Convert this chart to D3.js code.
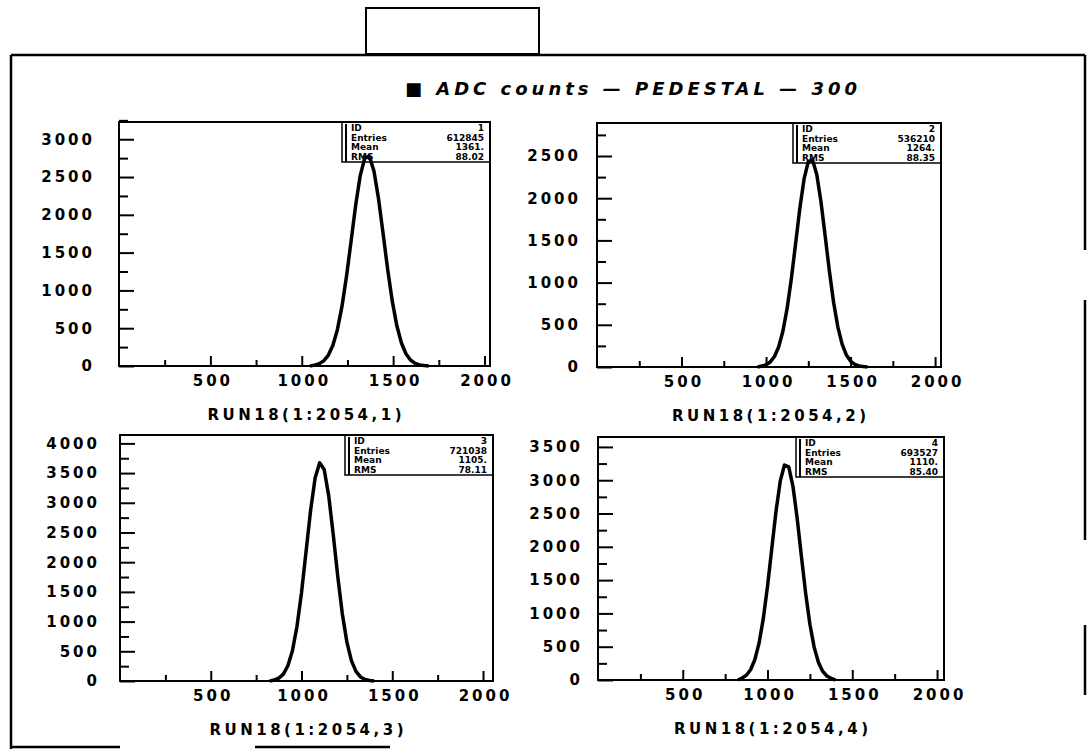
<!DOCTYPE html>
<html lang="en">
<head>
<meta charset="UTF-8">
<title>RUN18 pedestal</title>
<style>
  body { margin: 0; background: #fff; }
  svg { display: block; }
  .tick text { font-family: "DejaVu Sans", sans-serif; font-weight: bold; font-size: 15px; letter-spacing: 3px; fill: #000; }
  .tick line { stroke: #000; stroke-width: 2; }
  .frame { fill: none; stroke: #000; stroke-width: 2; }
  .hist { fill: none; stroke: #000; stroke-width: 3.5; stroke-linejoin: round; }
  .statbox { fill: none; stroke: #000; stroke-width: 1.5; }
  .stat { font-family: "DejaVu Sans", sans-serif; font-weight: bold; font-size: 9px; fill: #000; }
  .sub { font-family: "DejaVu Sans", sans-serif; font-weight: bold; font-size: 15px; fill: #000; }
  .title { font-family: "DejaVu Sans", sans-serif; font-weight: bold; font-style: italic; font-size: 18px; fill: #000; }
  .border { stroke: #000; stroke-width: 2.5; fill: none; }
</style>
</head>
<body>
<svg></svg>
<script src="https://d3js.org/d3.v7.min.js"></script>
<script>

// ---- data ----
const titleText = "\u25A0 ADC counts \u2014 PEDESTAL \u2014 300";
const panelNames = ["RUN18(1:2054,1)", "RUN18(1:2054,2)", "RUN18(1:2054,3)", "RUN18(1:2054,4)"];

const chan1 = [1045, 1070, 1095, 1120, 1145, 1170, 1195, 1220, 1245, 1270, 1295, 1320, 1345, 1370,
               1395, 1420, 1445, 1470, 1495, 1520, 1545, 1570, 1595, 1620, 1645, 1670, 1695];
const counts1 = [0, 12, 30, 68, 141, 271, 481, 788, 1189, 1655, 2127, 2519, 2753, 2775,
                 2580, 2214, 1752, 1279, 861, 535, 307, 162, 79, 35, 15, 6, 0];

const chan2 = [950, 975, 1000, 1025, 1050, 1075, 1100, 1125, 1150, 1175, 1200, 1225, 1250, 1275,
               1300, 1325, 1350, 1375, 1400, 1425, 1450, 1475, 1500, 1525, 1550, 1575, 1600];
const counts2 = [0, 11, 26, 60, 125, 240, 426, 697, 1052, 1464, 1880, 2228, 2434, 2454,
                 2282, 1958, 1549, 1131, 761, 473, 271, 143, 70, 31, 13, 5, 0];

const chan3 = [825, 850, 875, 900, 925, 950, 975, 1000, 1025, 1050, 1075, 1100, 1125, 1150,
               1175, 1200, 1225, 1250, 1275, 1300, 1325, 1350, 1375, 1400];
const counts3 = [0, 18, 48, 116, 257, 511, 918, 1487, 2175, 2870, 3418, 3673, 3561, 3116,
                 2460, 1753, 1127, 654, 342, 162, 69, 26, 9, 0];

const chan4 = [825, 850, 875, 900, 925, 950, 975, 1000, 1025, 1050, 1075, 1100, 1125, 1150,
               1175, 1200, 1225, 1250, 1275, 1300, 1325, 1350, 1375, 1400];
const counts4 = [0, 30, 71, 154, 304, 553, 921, 1407, 1971, 2533, 2986, 3228, 3200, 2909,
                 2426, 1855, 1301, 837, 494, 267, 133, 60, 25, 0];

const statLabels = ["ID", "Entries", "Mean", "RMS"];
const stats1 = ["1", "612845", "1361.", "88.02"];
const stats2 = ["2", "536210", "1264.", "88.35"];
const stats3 = ["3", "721038", "1105.", "78.11"];
const stats4 = ["4", "693527", "1110.", "85.40"];

const xTicks = [500, 1000, 1500, 2000];
const xMinor = [250, 750, 1250, 1750];
const yTicks1 = [0, 500, 1000, 1500, 2000, 2500, 3000];
const yMinor1 = [250, 750, 1250, 1750, 2250, 2750, 3250];
const yTicks2 = [0, 500, 1000, 1500, 2000, 2500];
const yMinor2 = [250, 750, 1250, 1750, 2250, 2750];
const yTicks3 = [0, 500, 1000, 1500, 2000, 2500, 3000, 3500, 4000];
const yMinor3 = [250, 750, 1250, 1750, 2250, 2750, 3250, 3750];
const yTicks4 = [0, 500, 1000, 1500, 2000, 2500, 3000, 3500];
const yMinor4 = [250, 750, 1250, 1750, 2250, 2750, 3250];

// ---- layout ----
const svg = d3.select("svg").attr("width", 1088).attr("height", 749);

const panels = [
  { left: 119, top: 122, right: 490, bottom: 366, xMax: 2030, yMax: 3228, gap: 24,
    chan: chan1, counts: counts1, stats: stats1, yTicks: yTicks1, yMinor: yMinor1, name: panelNames[0] },
  { left: 597, top: 123, right: 941, bottom: 367, xMax: 2035, yMax: 2891, gap: 16,
    chan: chan2, counts: counts2, stats: stats2, yTicks: yTicks2, yMinor: yMinor2, name: panelNames[1] },
  { left: 120, top: 435, right: 493, bottom: 681, xMax: 2055, yMax: 4141, gap: 20,
    chan: chan3, counts: counts3, stats: stats3, yTicks: yTicks3, yMinor: yMinor3, name: panelNames[2] },
  { left: 598, top: 437, right: 944, bottom: 680, xMax: 2041, yMax: 3649, gap: 15,
    chan: chan4, counts: counts4, stats: stats4, yTicks: yTicks4, yMinor: yMinor4, name: panelNames[3] }
];

// outer sheet border (broken, like the scan)
const borderSegs = [
  [[11, 55], [1085, 55]],
  [[11, 55], [11, 749]],
  [[1085, 55], [1085, 250]],
  [[1085, 300], [1085, 540]],
  [[1085, 625], [1085, 695]],
  [[11, 747], [120, 747]],
  [[255, 747], [390, 747]]
];
svg.selectAll(".border").data(borderSegs).join("path")
  .attr("class", "border")
  .attr("d", d => d3.line()(d));

// empty label box at the top
svg.append("rect")
  .attr("x", 366).attr("y", 8).attr("width", 173).attr("height", 46)
  .attr("fill", "#fff").attr("stroke", "#000").attr("stroke-width", 2);

svg.append("text")
  .attr("class", "title")
  .attr("x", 405).attr("y", 95)
  .attr("textLength", 452).attr("lengthAdjust", "spacing")
  .text(titleText);

panels.forEach(p => {
  const x = d3.scaleLinear().domain([0, p.xMax]).range([p.left, p.right]);
  const y = d3.scaleLinear().domain([0, p.yMax]).range([p.bottom, p.top]);
  const g = svg.append("g");

  // minor ticks
  g.append("g")
    .attr("transform", `translate(${p.left},0)`)
    .call(d3.axisLeft(y).tickValues(p.yMinor).tickSize(-9).tickFormat(""))
    .call(a => a.select(".domain").remove());
  g.append("g")
    .attr("transform", `translate(0,${p.bottom})`)
    .call(d3.axisBottom(x).tickValues(xMinor).tickSize(-6).tickFormat(""))
    .call(a => a.select(".domain").remove());

  // major ticks + labels
  g.append("g")
    .attr("transform", `translate(${p.left},0)`)
    .call(d3.axisLeft(y).tickValues(p.yTicks).tickSize(-15).tickPadding(p.gap).tickFormat(d3.format("d")))
    .call(a => a.select(".domain").remove())
    .call(a => a.selectAll("text").attr("font-size", null).attr("font-family", null));
  g.append("g")
    .attr("transform", `translate(0,${p.bottom})`)
    .call(d3.axisBottom(x).tickValues(xTicks).tickSize(-10).tickPadding(9).tickFormat(d3.format("d")))
    .call(a => a.select(".domain").remove())
    .call(a => a.selectAll("text").attr("font-size", null).attr("font-family", null).attr("dx", "2px"));

  // frame
  g.append("rect").attr("class", "frame")
    .attr("x", p.left).attr("y", p.top)
    .attr("width", p.right - p.left).attr("height", p.bottom - p.top);

  // stats box
  const bw = 148, bh = 40, bx = p.right - bw;
  g.append("rect").attr("class", "statbox")
    .attr("x", bx).attr("y", p.top).attr("width", bw).attr("height", bh);
  g.append("line").attr("x1", bx + 4).attr("x2", bx + 4)
    .attr("y1", p.top + 2).attr("y2", p.top + bh).attr("stroke", "#000").attr("stroke-width", 2);
  statLabels.forEach((lab, i) => {
    g.append("text").attr("class", "stat")
      .attr("x", bx + 9).attr("y", p.top + 9 + i * 9.5).text(lab);
    g.append("text").attr("class", "stat")
      .attr("x", p.right - 6).attr("y", p.top + 9 + i * 9.5)
      .attr("text-anchor", "end").text(p.stats[i]);
  });

  // histogram curve
  const pts = p.chan.map((c, i) => [c, p.counts[i]]);
  g.append("path").attr("class", "hist")
    .attr("d", d3.line().x(d => x(d[0])).y(d => y(d[1]))(pts));

  // axis title below
  g.append("text").attr("class", "sub")
    .attr("x", (p.left + p.right) / 2 - 97).attr("y", p.bottom + 54)
    .attr("textLength", 194).attr("lengthAdjust", "spacing")
    .text(p.name);
});

</script>
</body>
</html>
